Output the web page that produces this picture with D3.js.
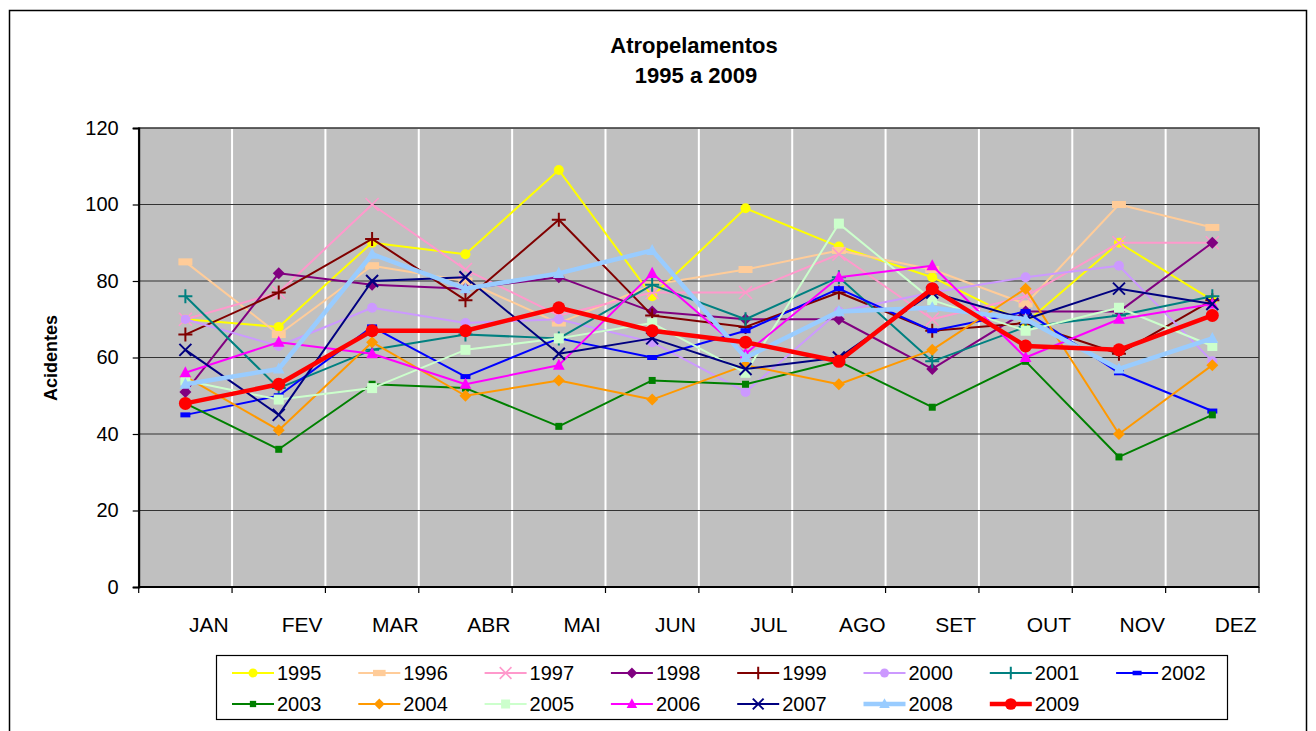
<!DOCTYPE html>
<html>
<head>
<meta charset="utf-8">
<title>Atropelamentos 1995 a 2009</title>
<script src="https://cdn.jsdelivr.net/npm/d3@7/dist/d3.min.js"></script>
<style>
  body { margin: 0; background: #fff; }
  svg { display: block; font-family: Arial, 'Liberation Sans', sans-serif; }
</style>
</head>
<body>
<svg></svg>
<script>
const months = ["JAN","FEV","MAR","ABR","MAI","JUN","JUL","AGO","SET","OUT","NOV","DEZ"];
const years = ["1995","1996","1997","1998","1999","2000","2001","2002","2003","2004","2005","2006","2007","2008","2009"];
const yTicks = [0, 20, 40, 60, 80, 100, 120];

const v1995 = [70, 68, 90, 87, 109, 76, 99, 89, 81, 69, 90, 75];
const v1996 = [85, 66, 84, 80, 69, 79, 83, 88, 83, 74, 100, 94];
const v1997 = [70, 77, 100, 83, 71, 77, 77, 87, 70, 76, 90, 90];
const v1998 = [51, 82, 79, 78, 81, 72, 70, 70, 57, 72, 72, 90];
const v1999 = [66, 77, 91, 75, 96, 71, 68, 77, 67, 69, 61, 75];
const v2000 = [70, 63, 73, 69, 70, 64, 51, 72, 77, 81, 84, 59];
const v2001 = [76, 52, 62, 66, 65, 79, 70, 81, 59, 68, 71, 76];
const v2002 = [45, 50, 68, 55, 65, 60, 67, 78, 67, 72, 56, 46];
const v2003 = [48, 36, 53, 52, 42, 54, 53, 59, 47, 59, 34, 45];
const v2004 = [55, 41, 64, 50, 54, 49, 58, 53, 62, 78, 40, 58];
const v2005 = [54, 49, 52, 62, 65, 69, 56, 95, 75, 67, 73, 63];
const v2006 = [56, 64, 61, 53, 58, 82, 61, 81, 84, 60, 70, 74];
const v2007 = [62, 45, 80, 81, 61, 65, 57, 60, 77, 70, 78, 74];
const v2008 = [53, 57, 87, 78, 82, 88, 60, 72, 73, 70, 57, 65];
const v2009 = [48, 53, 67, 67, 73, 67, 64, 59, 78, 63, 62, 71];

const seriesValues = [v1995, v1996, v1997, v1998, v1999, v2000, v2001, v2002,
                      v2003, v2004, v2005, v2006, v2007, v2008, v2009];

// look of each series, in the same order as years
const styles = [
  {color: "#FFFF00", marker: "circle", w: 2},
  {color: "#FFCC99", marker: "dash", w: 2},
  {color: "#FF99CC", marker: "star", w: 2},
  {color: "#800080", marker: "diamond", w: 2},
  {color: "#800000", marker: "plus", w: 2},
  {color: "#CC99FF", marker: "circle", w: 2},
  {color: "#008080", marker: "plus", w: 2},
  {color: "#0000FF", marker: "smalldash", w: 2},
  {color: "#008000", marker: "square", w: 2},
  {color: "#FF9900", marker: "diamond", w: 2},
  {color: "#CCFFCC", marker: "bigsquare", w: 2},
  {color: "#FF00FF", marker: "triangle", w: 2},
  {color: "#000080", marker: "x", w: 2},
  {color: "#99CCFF", marker: "triangle", w: 4.5},
  {color: "#FF0000", marker: "bigcircle", w: 4.5}
];

const W = 1316, H = 731;
const plot = {left: 138.7, right: 1259, top: 128, bottom: 587};

const svg = d3.select("svg").attr("width", W).attr("height", H);

// outer frame
svg.append("rect")
   .attr("x", 9.5).attr("y", 10.5)
   .attr("width", 1297).attr("height", 740)
   .attr("fill", "#fff").attr("stroke", "#000").attr("stroke-width", 1.5);

// title
svg.append("text")
   .attr("x", 694).attr("y", 53)
   .attr("text-anchor", "middle").attr("font-size", 22).attr("font-weight", "bold")
   .text("Atropelamentos");
svg.append("text")
   .attr("x", 696).attr("y", 83)
   .attr("text-anchor", "middle").attr("font-size", 22).attr("font-weight", "bold")
   .text("1995 a 2009");

let x = d3.scaleBand().domain(months).range([plot.left, plot.right]).paddingInner(0).paddingOuter(0);
let y = d3.scaleLinear().domain([0, 120]).range([plot.bottom, plot.top]);
let bw = x.bandwidth();
let cx = m => x(m) + bw / 2;

// plot background
svg.append("rect")
   .attr("x", plot.left).attr("y", plot.top)
   .attr("width", plot.right - plot.left).attr("height", plot.bottom - plot.top)
   .attr("fill", "#C0C0C0").attr("stroke", "#333").attr("stroke-width", 1.5);

// vertical white gridlines
svg.append("g").selectAll("line")
   .data(months.slice(1))
   .join("line")
   .attr("x1", d => x(d)).attr("x2", d => x(d))
   .attr("y1", plot.top + 1).attr("y2", plot.bottom)
   .attr("stroke", "#fff").attr("stroke-width", 2);

// horizontal gridlines
svg.append("g").selectAll("line")
   .data(yTicks.slice(1, -1))
   .join("line")
   .attr("x1", plot.left).attr("x2", plot.right)
   .attr("y1", d => y(d)).attr("y2", d => y(d))
   .attr("stroke", "#333").attr("stroke-width", 1.2);

// y axis
let yAxis = svg.append("g")
   .attr("transform", `translate(${plot.left},0)`)
   .call(d3.axisLeft(y).tickValues(yTicks).tickSize(6).tickPadding(14));
yAxis.select(".domain").attr("stroke", "#000").attr("stroke-width", 2);
yAxis.selectAll(".tick line").attr("stroke", "#000").attr("stroke-width", 1.2);
yAxis.selectAll(".tick text").attr("font-size", 20).attr("font-family", "Arial, 'Liberation Sans', sans-serif").attr("fill", "#000");

svg.append("text")
   .attr("transform", "translate(57,358) rotate(-90)")
   .attr("text-anchor", "middle").attr("font-size", 18).attr("font-weight", "bold")
   .text("Acidentes");

// x axis: ticks at band edges, labels shifted right like the original
let xg = svg.append("g");
xg.append("line")
  .attr("x1", plot.left).attr("x2", plot.right)
  .attr("y1", plot.bottom).attr("y2", plot.bottom)
  .attr("stroke", "#000").attr("stroke-width", 2);
xg.selectAll(".tk")
  .data(months.concat(["end"]))
  .join("line")
  .attr("class", "tk")
  .attr("x1", d => d === "end" ? plot.right : x(d))
  .attr("x2", d => d === "end" ? plot.right : x(d))
  .attr("y1", plot.bottom).attr("y2", plot.bottom + 6)
  .attr("stroke", "#000").attr("stroke-width", 1.2);
xg.selectAll(".lbl")
  .data(months)
  .join("text")
  .attr("class", "lbl")
  .attr("x", d => x(d) + bw * 0.75)
  .attr("y", 632)
  .attr("text-anchor", "middle").attr("font-size", 21)
  .text(d => d);

function drawMarker(g, type, color, s) {
  s = s || 1;
  if (type === "circle") {
    g.append("circle").attr("r", 5 * s).attr("fill", color);
  } else if (type === "bigcircle") {
    g.append("circle").attr("r", 6.5 * s).attr("fill", color);
  } else if (type === "dash") {
    g.append("rect").attr("x", -7 * s).attr("y", -3.5 * s).attr("width", 14 * s).attr("height", 7 * s).attr("fill", color);
  } else if (type === "smalldash") {
    g.append("rect").attr("x", -5 * s).attr("y", -2.5 * s).attr("width", 10 * s).attr("height", 5 * s).attr("fill", color);
  } else if (type === "square") {
    g.append("rect").attr("x", -3.5 * s).attr("y", -3.5 * s).attr("width", 7 * s).attr("height", 7 * s).attr("fill", color);
  } else if (type === "bigsquare") {
    g.append("rect").attr("x", -5 * s).attr("y", -5 * s).attr("width", 10 * s).attr("height", 10 * s).attr("fill", color);
  } else if (type === "diamond") {
    let r = 6 * s;
    g.append("path").attr("d", `M0,${-r}L${r},0L0,${r}L${-r},0Z`).attr("fill", color);
  } else if (type === "triangle") {
    let r = 6.5 * s;
    g.append("path").attr("d", `M0,${-r}L${r * 0.9},${r * 0.7}L${-r * 0.9},${r * 0.7}Z`).attr("fill", color);
  } else if (type === "plus") {
    let r = 7 * s;
    g.append("path").attr("d", `M${-r},0H${r}M0,${-r}V${r}`).attr("stroke", color).attr("stroke-width", 2);
  } else if (type === "x") {
    let r = 6 * s;
    g.append("path").attr("d", `M${-r},${-r}L${r},${r}M${-r},${r}L${r},${-r}`).attr("stroke", color).attr("stroke-width", 2);
  } else if (type === "star") {
    let r = 6.5 * s;
    g.append("path").attr("d", `M${-r},${-r}L${r},${r}M${-r},${r}L${r},${-r}`).attr("stroke", color).attr("stroke-width", 1.6);
  }
}

let line = d3.line().x((d, i) => cx(months[i])).y(d => y(d));

seriesValues.forEach((vals, si) => {
  let st = styles[si];
  let g = svg.append("g");
  g.append("path")
   .attr("d", line(vals))
   .attr("fill", "none").attr("stroke", st.color).attr("stroke-width", st.w)
   .attr("stroke-linejoin", "round");
  vals.forEach((v, i) => {
    let mg = g.append("g").attr("transform", `translate(${cx(months[i])},${y(v)})`);
    drawMarker(mg, st.marker, st.color, 1);
  });
});

// legend
let leg = svg.append("g");
leg.append("rect")
   .attr("x", 216.5).attr("y", 655.5).attr("width", 1011).attr("height", 64)
   .attr("fill", "#fff").attr("stroke", "#000").attr("stroke-width", 1.2);
years.forEach((yr, i) => {
  let col = i % 8, row = Math.floor(i / 8);
  let lx = 232 + col * 126.3, ly = 673 + row * 31;
  let st = styles[i];
  let g = leg.append("g");
  g.append("line").attr("x1", lx).attr("x2", lx + 42).attr("y1", ly).attr("y2", ly)
   .attr("stroke", st.color).attr("stroke-width", st.w);
  let mg = g.append("g").attr("transform", `translate(${lx + 21},${ly})`);
  drawMarker(mg, st.marker, st.color, 0.9);
  g.append("text").attr("x", lx + 45).attr("y", ly + 7).attr("font-size", 20).text(yr);
});
</script>
</body>
</html>
